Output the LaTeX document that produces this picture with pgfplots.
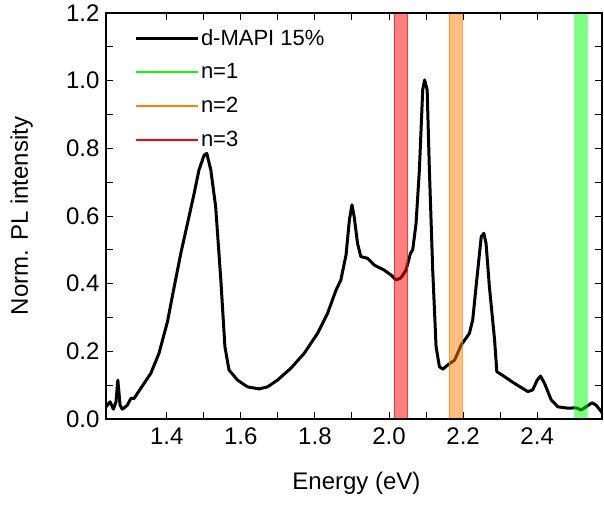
\documentclass[border=0pt]{standalone}
\usepackage{pgfplots}
\pgfplotsset{compat=1.18}
\usepackage{fontspec}
\setmainfont{Liberation Sans}
\usetikzlibrary{calc}
\definecolor{bandred}{RGB}{255,0,0}
\definecolor{bandorange}{RGB}{255,128,0}
\definecolor{bandgreen}{RGB}{0,255,0}

\begin{document}
\begin{tikzpicture}
\begin{axis}[
  scale only axis, width=496pt, height=406pt,
  xmin=1.236, xmax=2.575, ymin=0, ymax=1.2,
  xtick={1.4,1.6,1.8,2.0,2.2,2.4},
  ytick={0,0.2,0.4,0.6,0.8,1.0,1.2},
  minor x tick num=1, minor y tick num=1,
  tick align=inside, major tick length=7pt, minor tick length=7pt,
  tick style={black, line width=1pt},
  axis line style={line width=1.2pt},
  axis on top,
  /pgf/number format/assume math mode=true,
  ticklabel style={font=\fontsize{24}{28}\selectfont},
  xticklabel style={yshift=-5pt, /pgf/number format/.cd, fixed, fixed zerofill, precision=1},
  yticklabel style={xshift=-3pt, /pgf/number format/.cd, fixed, fixed zerofill, precision=1},
  label style={font=\fontsize{24}{28}\selectfont},
  xlabel={Energy (eV)},
  ylabel={Norm. PL intensity},
  xlabel style={at={(axis description cs:0.505,-0.158)}, anchor=center},
  ylabel style={at={(axis description cs:-0.17,0.5)}, anchor=center},
  legend style={draw=none, fill=none, at={(axis description cs:0.05,0.97)},
    anchor=north west, font=\fontsize{22}{25}\selectfont, row sep=13pt},
  legend cell align=left,
  legend image code/.code={\draw[#1] (0pt,0pt) -- (62pt,0pt);},
]
\addplot[black, line width=3pt, line join=round] coordinates {
(1.236,0.036) (1.247,0.051) (1.256,0.029) (1.263,0.051) (1.268,0.115)
(1.274,0.041) (1.280,0.029) (1.294,0.041) (1.303,0.061) (1.312,0.061)
(1.330,0.091) (1.357,0.135) (1.379,0.194) (1.402,0.288) (1.415,0.362)
(1.438,0.490) (1.456,0.578) (1.474,0.667) (1.487,0.736) (1.501,0.780)
(1.508,0.785) (1.519,0.736) (1.532,0.628) (1.546,0.411) (1.557,0.214)
(1.568,0.145) (1.591,0.115) (1.618,0.095) (1.649,0.089) (1.672,0.095)
(1.699,0.115) (1.735,0.150) (1.771,0.194) (1.807,0.253) (1.834,0.312)
(1.857,0.381) (1.870,0.411) (1.884,0.485) (1.893,0.588) (1.900,0.633)
(1.906,0.598) (1.915,0.519) (1.924,0.480) (1.942,0.475) (1.960,0.455)
(1.987,0.440) (2.005,0.426) (2.019,0.411) (2.032,0.417) (2.046,0.440)
(2.058,0.490) (2.064,0.500) (2.073,0.578) (2.082,0.736) (2.091,0.973)
(2.096,1.002) (2.103,0.973) (2.109,0.736) (2.118,0.440) (2.127,0.214)
(2.136,0.155) (2.145,0.147) (2.159,0.160) (2.177,0.174) (2.195,0.219)
(2.217,0.253) (2.226,0.293) (2.235,0.391) (2.249,0.539) (2.256,0.549)
(2.262,0.519) (2.271,0.391) (2.285,0.234) (2.291,0.140) (2.312,0.125)
(2.339,0.105) (2.375,0.081) (2.388,0.086) (2.400,0.115) (2.409,0.127)
(2.420,0.105) (2.438,0.056) (2.456,0.036) (2.483,0.032) (2.505,0.033)
(2.519,0.027) (2.532,0.036) (2.548,0.048) (2.559,0.041) (2.573,0.022)
(2.582,0.007)
};
\addlegendentry{d-MAPI 15\%}
% bands marking the n=1,2,3 exciton energies
\addplot[forget plot, fill=bandred, fill opacity=0.5, draw=bandred, draw opacity=0.6, line width=0.6pt]
  coordinates {(2.0143,0) (2.0505,0) (2.0505,1.2) (2.0143,1.2)} -- cycle;
\addplot[forget plot, fill=bandorange, fill opacity=0.5, draw=bandorange, draw opacity=0.7, line width=0.6pt]
  coordinates {(2.163,0) (2.197,0) (2.197,1.2) (2.163,1.2)} -- cycle;
\addplot[forget plot, fill=bandgreen, fill opacity=0.5, draw=bandgreen!60!cyan, draw opacity=0.5, line width=0.6pt]
  coordinates {(2.501,0) (2.534,0) (2.534,1.2) (2.501,1.2)} -- cycle;
\addlegendimage{draw=bandgreen, line width=2pt}
\addlegendentry{n=1}
\addlegendimage{draw=bandorange, line width=2pt}
\addlegendentry{n=2}
\addlegendimage{draw=bandred, line width=2pt}
\addlegendentry{n=3}
\coordinate (sw) at (rel axis cs:0,0);
\coordinate (ne) at (rel axis cs:1,1);
\end{axis}
\pgfresetboundingbox
\path ($(sw)+(-106pt,-85pt)$) rectangle ($(ne)+(2pt,13pt)$);
\end{tikzpicture}
\end{document}
